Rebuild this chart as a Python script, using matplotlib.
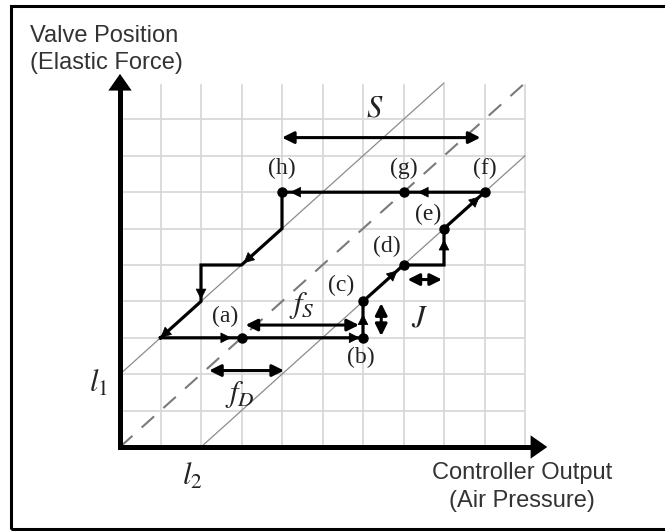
import numpy as np
import matplotlib
matplotlib.use("Agg")
import matplotlib.pyplot as plt
from matplotlib.patches import Rectangle

plt.rcParams['mathtext.fontset'] = 'stix'

# hysteresis path of the valve (grid units)
path_x = [1, 3, 6, 6, 7, 8, 8, 9, 7, 4, 4, 3, 2, 2, 1]
path_y = [3, 3, 3, 4, 5, 5, 6, 7, 7, 7, 6, 5, 5, 4, 3]

# labelled points (a)..(h)
pt_names = ['(a)', '(b)', '(c)', '(d)', '(e)', '(f)', '(g)', '(h)']
pt_x = [3, 6, 6, 7, 8, 9, 7, 4]
pt_y = [3, 3, 4, 5, 6, 7, 7, 7]
lab_x = [2.6, 5.95, 5.45, 6.6, 7.6, 9.0, 7.0, 4.0]
lab_y = [3.6, 2.45, 4.45, 5.5, 6.4, 7.65, 7.65, 7.65]

# direction arrows along the path: (tip x, tip y, dx, dy)
dir_arrows = [
    (2.75, 3, 1, 0), (5.92, 3, 1, 0), (6, 3.65, 0, 1), (6.85, 4.85, 1, 1),
    (8, 5.7, 0, 1), (8.88, 6.88, 1, 1), (7.35, 7, -1, 0), (4.2, 7, -1, 0),
    (3.05, 5.05, -1, -1), (2, 4.05, 0, -1), (1.0, 3.0, -1, -1),
]

# dimension arrows: (x0, y0, x1, y1)
dims = {
    'S': (4.0, 8.5, 8.9, 8.5),
    'fS': (3.1, 3.35, 5.9, 3.35),
    'fD': (2.2, 2.1, 4.05, 2.1),
    'Jh': (7.1, 4.6, 7.95, 4.6),
    'Jv': (6.45, 3.05, 6.45, 3.95),
}

# pixel scale of one grid unit and origin location
ox, oy = 120, 447
ux, uy = 40.5, 36.4
W, H = 665, 531

fig = plt.figure(figsize=(W / 100, H / 100), dpi=100)
ax = fig.add_axes([0, 0, 1, 1])
ax.set_xlim(-ox / ux, (W - ox) / ux)
ax.set_ylim(-(H - oy) / uy, oy / uy)
ax.axis('off')

# outer frame
fig.patches.append(Rectangle((11 / W, 1 - 529 / H), (W + 10 - 11) / W, (529 - 6) / H,
                             transform=fig.transFigure, fill=False, lw=2.2,
                             edgecolor='black'))

# grid
grid_c = '#d6d6d6'
for k in range(1, 11):
    ax.plot([k, k], [0, 9.95], color=grid_c, lw=1.2, zorder=1)
for k in range(1, 10):
    ax.plot([0, 10], [k, k], color=grid_c, lw=1.2, zorder=1)

# guide lines
ax.plot([0, 8], [2, 10], color='#8c8c8c', lw=0.9, zorder=2)
ax.plot([2, 10], [0, 8], color='#8c8c8c', lw=0.9, zorder=2)
ax.plot([0, 10], [0, 10], color='#7a7a7a', lw=1.5, dashes=(8, 6), zorder=2)

# axes with arrows
ax.plot([0, 0, 10.2], [10.0, 0, 0], color='black', lw=3.6,
        solid_joinstyle='miter', zorder=5)
ax.annotate('', xy=(0, 10.25), xytext=(0, 9.5),
            arrowprops=dict(arrowstyle='-|>,head_length=0.6,head_width=0.42',
                            lw=0, color='black', mutation_scale=20,
                            shrinkA=0, shrinkB=0), zorder=6)
ax.annotate('', xy=(10.55, 0), xytext=(9.8, 0),
            arrowprops=dict(arrowstyle='-|>,head_length=0.6,head_width=0.42',
                            lw=0, color='black', mutation_scale=20,
                            shrinkA=0, shrinkB=0), zorder=6)

# hysteresis path
ax.plot(path_x, path_y, color='black', lw=2.3, solid_joinstyle='miter', zorder=4)
for tx, ty, dx, dy in dir_arrows:
    n = np.hypot(dx, dy)
    ax.annotate('', xy=(tx, ty), xytext=(tx - 0.2 * dx / n, ty - 0.2 * dy / n),
                arrowprops=dict(arrowstyle='-|>,head_length=0.5,head_width=0.25',
                                lw=0.5, color='black', mutation_scale=14,
                                shrinkA=0, shrinkB=0), zorder=5)
ax.plot(pt_x, pt_y, 'o', color='black', ms=6.5, zorder=6)

serif = dict(family='Liberation Serif', color='#222222', fontsize=17,
             ha='center', va='center')
for name, lx, ly in zip(pt_names, lab_x, lab_y):
    ax.text(lx, ly, name, **serif)

# dimension arrows
for key, (x0, y0, x1, y1) in dims.items():
    ax.annotate('', xy=(x1, y1), xytext=(x0, y0),
                arrowprops=dict(arrowstyle='<|-|>,head_length=0.5,head_width=0.25',
                                lw=2.2, color='black', mutation_scale=14,
                                shrinkA=0, shrinkB=0), zorder=5)

math = dict(color='#222222', ha='center', va='center')
ax.text(6.3, 9.3, r'$S$', fontsize=22, **math)
ax.text(4.5, 3.9, r'$f_S$', fontsize=22, **math)
ax.text(2.95, 1.45, r'$f_D$', fontsize=22, **math)
ax.text(7.4, 3.55, r'$J$', fontsize=22, **math)
ax.text(-0.52, 1.75, r'$l_1$', fontsize=22, **math)
ax.text(1.78, -0.8, r'$l_2$', fontsize=22, **math)

# axis titles
sans = dict(family='Liberation Sans', color='#333333', fontsize=17)
ax.text(-2.22, 10.93, 'Valve Position\n(Elastic Force)', ha='left', va='center',
        multialignment='left', linespacing=1.3, **sans)
ax.text(9.93, -1.1, 'Controller Output\n(Air Pressure)', ha='center', va='center',
        multialignment='center', linespacing=1.3, **sans)

fig.savefig('out.png', dpi=100)
